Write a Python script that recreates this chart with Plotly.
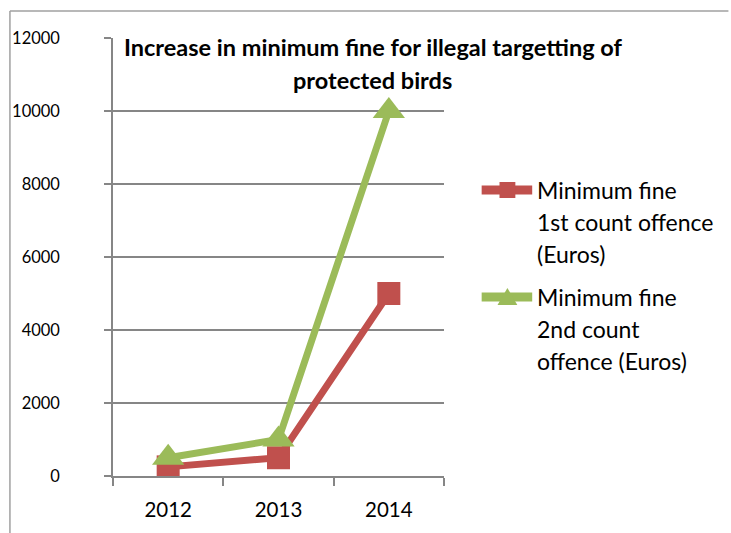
import plotly.graph_objects as go

years = ["2012", "2013", "2014"]
fine_1st = [250, 500, 5000]
fine_2nd = [500, 1000, 10000]
series_names = ["Minimum fine 1st count offence (Euros)",
                "Minimum fine 2nd count offence (Euros)"]
legend_lines = [["Minimum fine", "1st count offence", "(Euros)"],
                ["Minimum fine", "2nd count", "offence (Euros)"]]
title_lines = ["Increase in minimum fine for illegal targetting of", "protected birds"]
y_ticks = [0, 2000, 4000, 6000, 8000, 10000, 12000]
y_tick_text = ["0", "2000", "4000", "6000", "8000", "10000", "12000"]

RED = "#C0504D"
GREEN = "#9BBB59"
GRID = "#868686"
FONT = "Lato"

W, H = 731, 533
L, R, T, B = 110, 444, 38, 476


def px(x):
    return (x - L) / (R - L)


def py(y):
    return (B - y) / (B - T)


fig = go.Figure()
fig.add_trace(go.Scatter(x=years, y=fine_1st, mode="lines+markers", name=series_names[0],
                         line=dict(color=RED, width=7),
                         marker=dict(symbol="square", size=23, color=RED),
                         showlegend=False))
fig.add_trace(go.Scatter(x=years, y=fine_2nd, mode="lines+markers", name=series_names[1],
                         line=dict(color=GREEN, width=7),
                         marker=dict(symbol="triangle-up", size=28, color=GREEN),
                         showlegend=False))

fig.update_layout(
    width=W, height=H,
    margin=dict(l=L, r=W - R, t=T, b=H - B),
    paper_bgcolor="white", plot_bgcolor="white",
    font=dict(family=FONT, size=17, color="black"),
    xaxis=dict(type="category", range=[-0.5, 2.5], tickson="boundaries",
               showgrid=False, showline=True, linecolor=GRID, linewidth=1.5,
               ticks="outside", ticklen=8, tickcolor=GRID, tickwidth=1.5,
               ticklabelstandoff=15, tickfont=dict(size=20.5)),
    yaxis=dict(range=[0, 12000], tickvals=y_ticks, ticktext=y_tick_text,
               showgrid=True, gridcolor=GRID, gridwidth=1.5,
               zeroline=False, showline=True, linecolor=GRID, linewidth=1.5,
               ticks="outside", ticklen=7, tickcolor=GRID, tickwidth=1.5,
               ticklabelstandoff=41, tickfont=dict(size=16.5)),
)

# chart border (Excel-like frame, left & top)
fig.add_shape(type="line", xref="paper", yref="paper", x0=px(6), x1=px(6), y0=py(11), y1=py(533),
              line=dict(color="#A0A0A0", width=1.5))
fig.add_shape(type="line", xref="paper", yref="paper", x0=px(6), x1=px(731), y0=py(11), y1=py(11),
              line=dict(color="#A0A0A0", width=1.5))

# title
for txt, yc in zip(title_lines, [47, 80]):
    fig.add_annotation(text="<b>" + txt + "</b>", xref="paper", yref="paper",
                       x=px(372), y=py(yc), xanchor="center", yanchor="middle",
                       showarrow=False, font=dict(family=FONT, size=23.5, color="black"))

# custom legend
leg_centers = [190, 297]
colors = [RED, GREEN]
for k in range(2):
    yc = leg_centers[k]
    fig.add_shape(type="line", xref="paper", yref="paper", x0=px(482), x1=px(533), y0=py(yc), y1=py(yc),
                  line=dict(color=colors[k], width=9))
    if k == 0:
        fig.add_shape(type="rect", xref="paper", yref="paper", x0=px(500), x1=px(516),
                      y0=py(yc - 8), y1=py(yc + 8), fillcolor=RED, line=dict(width=0))
    else:
        fig.add_shape(type="path", xref="paper", yref="paper",
                      path=f"M {px(498)} {py(yc + 8)} L {px(518)} {py(yc + 8)} L {px(508)} {py(yc - 9)} Z",
                      fillcolor=GREEN, line=dict(width=0))
    for j, line in enumerate(legend_lines[k]):
        fig.add_annotation(text=line, xref="paper", yref="paper", x=px(536), y=py(yc + 32 * j),
                           xanchor="left", yanchor="middle", showarrow=False,
                           font=dict(family=FONT, size=23, color="black"))

fig.write_html("out.html", config={"displayModeBar": False},
               post_script="document.body.style.margin='0';")
